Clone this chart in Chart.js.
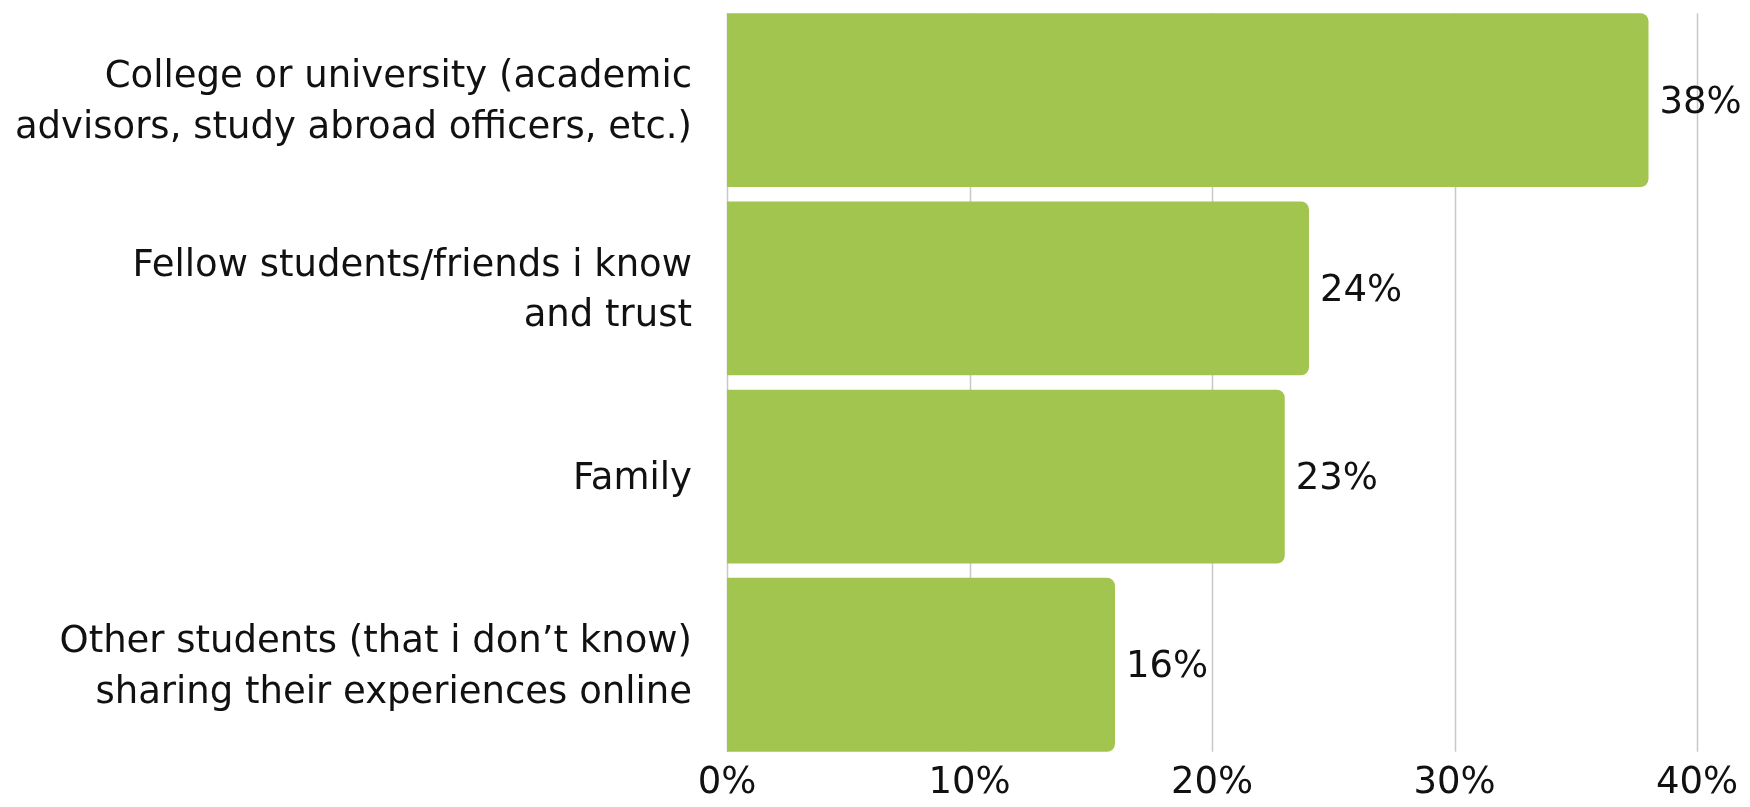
<!DOCTYPE html>
<html>
<head>
<meta charset="utf-8">
<script src="https://cdn.jsdelivr.net/npm/chart.js@4.4.1/dist/chart.umd.min.js"></script>
<style>
    html, body { margin: 0; padding: 0; background: #fff; }
    #wrap { width: 1750px; height: 807px; }
</style>
</head>
<body>
<div id="wrap"><canvas id="sourcesChart"></canvas></div>
<script>
const categories = [
    ['College or university (academic', 'advisors, study abroad officers, etc.)'],
    ['Fellow students/friends i know', 'and trust'],
    ['Family'],
    ['Other students (that i don\u2019t know)', 'sharing their experiences online']
];
const shares = [38, 24, 23, 16];
const xTicks = [0, 10, 20, 30, 40];

const FONT = '"DejaVu Sans", sans-serif';
const FONT_SIZE = 37;
const barColor = '#a2c54f';
const gridColor = '#c8c8c8';

// grid lines only span from the first bar's top to the last bar's bottom
const barGrid = {
    id: 'barGrid',
    beforeDatasetsDraw(chart) {
        const meta = chart.getDatasetMeta(0);
        const first = meta.data[0], last = meta.data[meta.data.length - 1];
        const top = first.y - first.height / 2;
        const bottom = last.y + last.height / 2;
        const ctx = chart.ctx;
        const x = chart.scales.x;
        ctx.save();
        ctx.strokeStyle = gridColor;
        ctx.lineWidth = 1.5;
        xTicks.forEach(v => {
            const px = Math.round(x.getPixelForValue(v)) + 0.5;
            ctx.beginPath();
            ctx.moveTo(px, top);
            ctx.lineTo(px, bottom);
            ctx.stroke();
        });
        ctx.restore();
    }
};

// value labels just past the end of each bar
const valueLabels = {
    id: 'valueLabels',
    afterDatasetsDraw(chart) {
        const ctx = chart.ctx;
        const meta = chart.getDatasetMeta(0);
        ctx.save();
        ctx.font = FONT_SIZE + 'px ' + FONT;
        ctx.fillStyle = '#111';
        ctx.textAlign = 'left';
        ctx.textBaseline = 'middle';
        meta.data.forEach((bar, i) => {
            ctx.fillText(shares[i] + '%', bar.x + 11, bar.y + 3);
        });
        ctx.restore();
    }
};

new Chart(document.getElementById('sourcesChart'), {
    type: 'bar',
    data: {
        labels: categories,
        datasets: [{
            data: shares,
            backgroundColor: barColor,
            borderRadius: 8,
            borderSkipped: 'start',
            barPercentage: 0.924,
            categoryPercentage: 1
        }]
    },
    options: {
        indexAxis: 'y',
        responsive: true,
        maintainAspectRatio: false,
        animation: false,
        layout: { padding: { top: 6, right: 53, bottom: 0, left: 0 } },
        plugins: {
            legend: { display: false },
            tooltip: { enabled: false }
        },
        scales: {
            x: {
                min: 0,
                max: 40,
                afterBuildTicks(scale) {
                    scale.ticks = xTicks.map(v => ({ value: v }));
                },
                grid: { display: false, drawTicks: false },
                border: { display: false },
                ticks: {
                    padding: 7,
                    color: '#111',
                    font: { family: FONT, size: FONT_SIZE, lineHeight: 0.92 },
                    callback: v => v + '%'
                }
            },
            y: {
                afterFit(scale) {
                    scale.width = 727;
                    scale.paddingTop = 0;
                    scale.paddingBottom = 0;
                },
                grid: { display: false, drawTicks: false },
                border: { display: false },
                ticks: {
                    padding: 35,
                    labelOffset: 3,
                    color: '#111',
                    font: { family: FONT, size: FONT_SIZE, lineHeight: 1.37 }
                }
            }
        }
    },
    plugins: [barGrid, valueLabels]
});
</script>
</body>
</html>
